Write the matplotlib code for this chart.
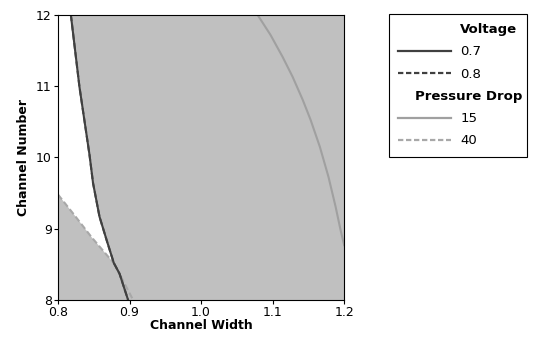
import numpy as np
import matplotlib
matplotlib.use('Agg')
import matplotlib.pyplot as plt
from matplotlib.lines import Line2D

# contour lines (channel width, channel number)
volt_y = [12.0, 10.99, 10.04, 9.64, 9.17, 8.84, 8.52, 8.37, 8.0]
volt_x = [0.818, 0.830, 0.844, 0.849, 0.858, 0.868, 0.878, 0.886, 0.898]
pd40_y = [9.48, 9.19, 8.88, 8.61, 8.52, 8.0]
pd40_x = [0.800, 0.823, 0.847, 0.870, 0.878, 0.905]
pd15_y = [12.0, 11.72, 11.41, 11.13, 10.81, 10.53, 10.15, 9.73, 9.31, 8.98, 8.77]
pd15_x = [1.079, 1.097, 1.114, 1.128, 1.142, 1.153, 1.166, 1.178, 1.188, 1.195, 1.200]

xticks = [0.8, 0.9, 1.0, 1.1, 1.2]
yticks = [8, 9, 10, 11, 12]

plt.rcParams['font.family'] = ['DejaVu Sans']
fig = plt.figure(figsize=(5.42, 3.39), dpi=100)
ax = fig.add_axes([0.107, 0.115, 0.528, 0.841])
ax.set_facecolor('#c0c0c0')

# white (feasible) region between the pressure-drop 40 line and the voltage line
yy = np.linspace(8, 12, 400)
right = np.interp(yy, volt_y[::-1], volt_x[::-1])
left = np.where(yy > pd40_y[0], 0.8, np.interp(yy, pd40_y[::-1], pd40_x[::-1]))
ax.fill_betweenx(yy, left, right, where=left < right, color='white', lw=0)

ax.plot(pd40_x, pd40_y, color='#a8a8a8', lw=1.5, ls=(0, (3, 1.5)))
ax.plot(pd15_x, pd15_y, color='#a0a0a0', lw=1.5)
ax.plot(volt_x, volt_y, color='#555555', lw=1.5, ls=(0, (3, 1.5)))
ax.plot(volt_x, volt_y, color='#404040', lw=1.5)

ax.set_xlim(0.8, 1.2)
ax.set_ylim(8, 12)
ax.set_xticks(xticks)
ax.set_xticklabels(['%.1f' % v for v in xticks])
ax.set_yticks(yticks)
ax.tick_params(labelsize=9, length=3, width=0.8, pad=1.5)
for s in ax.spines.values():
    s.set_linewidth(0.8)
ax.set_xlabel('Channel Width', fontsize=9, fontweight='bold', labelpad=0)
ax.set_ylabel('Channel Number', fontsize=9, fontweight='bold', labelpad=4)

blank = Line2D([], [], color='none')
handles = [blank,
           Line2D([], [], color='#404040', lw=1.6),
           Line2D([], [], color='#404040', lw=1.6, ls=(0, (2.4, 1.2))),
           blank,
           Line2D([], [], color='#a0a0a0', lw=1.6),
           Line2D([], [], color='#a8a8a8', lw=1.6, ls=(0, (2.4, 1.2)))]
labels = ['Voltage', '0.7', '0.8', 'Pressure Drop', '15', '40']
leg = fig.legend(handles, labels, loc='upper left',
                 bbox_to_anchor=(389 / 542, 1 - 156 / 339, 138 / 542, 142 / 339),
                 mode='expand', borderaxespad=0,
                 fontsize=9.5, handlelength=4.0, handletextpad=0.7,
                 labelspacing=0.70, borderpad=0.7, fancybox=False,
                 edgecolor='black', framealpha=1)
leg.get_frame().set_linewidth(0.8)
texts = leg.get_texts()
texts[0].set_fontweight('bold')
texts[3].set_fontweight('bold')
texts[3].set_x(-45)

fig.savefig('out.png', dpi=100)
